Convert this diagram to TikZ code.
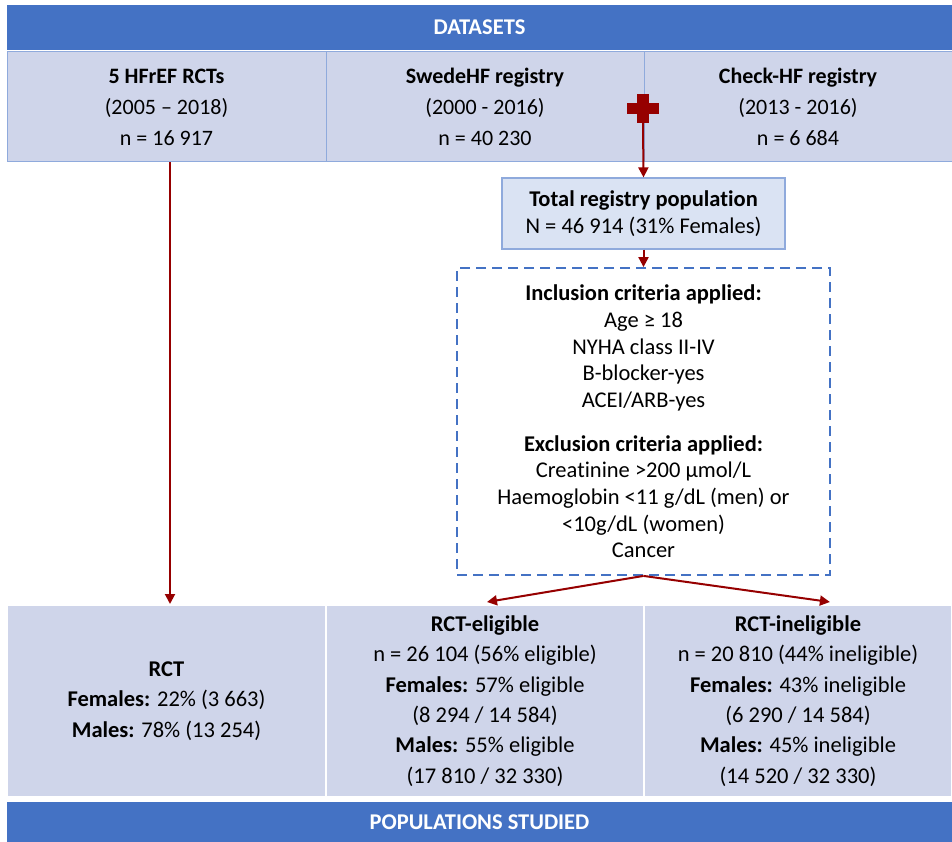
\documentclass[tikz,border=0pt]{standalone}
\usepackage{fontspec}
\setmainfont{Carlito}[Ligatures=NoCommon]
\usetikzlibrary{arrows.meta,positioning,calc}
\definecolor{hdrblue}{HTML}{4472C4}
\definecolor{cellblue}{HTML}{CFD5EA}
\definecolor{boxblue}{HTML}{DAE3F3}
\definecolor{lineblue}{HTML}{8FAADC}
\definecolor{darkred}{RGB}{150,0,0}
\tikzset{
  band/.style={fill=hdrblue, draw=none, inner sep=0pt, text=white, font=\fontsize{22.5}{26}\selectfont\bfseries},
  topcell/.style={fill=cellblue, draw=lineblue, line width=1pt, inner sep=0pt, align=center,
    font=\fontsize{22}{31}\selectfont},
  botcell/.style={fill=cellblue, draw=white, line width=2pt, inner sep=0pt, align=center,
    font=\fontsize{22.5}{30.4}\selectfont},
  totalbox/.style={fill=boxblue, draw=lineblue, line width=1.2pt, inner sep=0pt, align=center,
    font=\fontsize{22.5}{27}\selectfont},
  critbox/.style={draw=hdrblue, line width=1.8pt, dash pattern=on 10pt off 6pt, inner sep=0pt, align=center,
    font=\fontsize{22.5}{26.6}\selectfont},
  flow/.style={draw=darkred, line width=2pt, -{Triangle[length=10pt,width=10pt]}},
}
\begin{document}
\begin{tikzpicture}[x=1pt,y=-1pt]
\useasboundingbox (0,0) rectangle (952,842);
% header band
\node[band, minimum width=945pt, minimum height=45pt] (hdr) at (479.5,27.5) {DATASETS};
% datasets row
\node[topcell, minimum width=319pt, minimum height=110pt] (d1) at (166.5,107)
  {\textbf{5 HFrEF RCTs}\\(2005 – 2018)\\n = 16 917};
\node[topcell, minimum width=318pt, minimum height=110pt] (d2) at (485,107)
  {\textbf{SwedeHF registry}\\(2000 - 2016)\\n = 40 230};
\node[topcell, minimum width=308pt, minimum height=110pt] (d3) at (798,107)
  {\textbf{Check-HF registry}\\(2013 - 2016)\\n = 6 684};
% red cross
\node[fill=darkred, minimum width=12pt, minimum height=29pt, inner sep=0pt] (crossv) at (643,108.5) {};
\node[fill=darkred, minimum width=32pt, minimum height=11pt, inner sep=0pt] (cross) at (643,108.5) {};
% total registry
\node[totalbox, minimum width=283pt, minimum height=71pt] (total) at (643.5,213.5)
  {\textbf{Total registry population}\\N = 46 914 (31\% Females)};
% criteria
\node[critbox, minimum width=373pt, minimum height=307pt] (crit) at (643.5,421.5)
  {\textbf{Inclusion criteria applied:}\\Age ≥ 18\\NYHA class II-IV\\B-blocker-yes\\ACEI/ARB-yes\\[17.4pt]
   \textbf{Exclusion criteria applied:}\\Creatinine >200 µmol/L\\Haemoglobin <11 g/dL (men) or\\<10g/dL (women)\\Cancer};
% populations row
\node[botcell, minimum width=319pt, minimum height=192pt] (p1) at (166.5,701)
  {\textbf{RCT}\\\textbf{Females:} 22\% (3 663)\\\textbf{Males:} 78\% (13 254)};
\node[botcell, minimum width=318pt, minimum height=192pt] (p2) at (485,701)
  {\textbf{RCT-eligible}\\n = 26 104 (56\% eligible)\\\textbf{Females:} 57\% eligible\\(8 294 / 14 584)\\\textbf{Males:} 55\% eligible\\(17 810 / 32 330)};
\node[botcell, minimum width=308pt, minimum height=192pt] (p3) at (798,701)
  {\textbf{RCT-ineligible}\\n = 20 810 (44\% ineligible)\\\textbf{Females:} 43\% ineligible\\(6 290 / 14 584)\\\textbf{Males:} 45\% ineligible\\(14 520 / 32 330)};
% footer band
\node[band, minimum width=945pt, minimum height=40pt] (ftr) at (479.5,822) {POPULATIONS STUDIED};
% connectors
\coordinate (lstart) at ([xshift=3.5pt]d1.south);
\draw[flow] (lstart) -- (lstart |- p1.north);
\draw[flow] (crossv.south) -- (total.north);
\draw[flow] (total.south) -- (crit.north);
\coordinate (ltip) at ([xshift=2pt,yshift=2pt]p2.north);
\coordinate (rtip) at ([xshift=-1pt,yshift=2pt]crit.east |- p3.north);
\draw[flow] (crit.south) -- (ltip);
\draw[flow] (crit.south) -- (rtip);
\end{tikzpicture}
\end{document}
